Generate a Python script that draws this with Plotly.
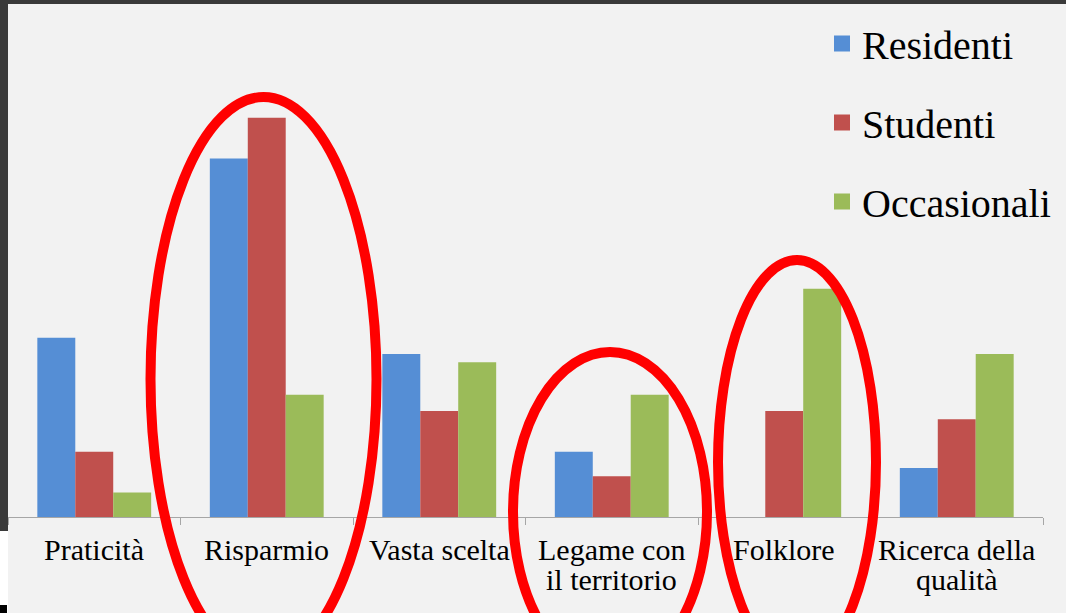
import plotly.graph_objects as go

categories = ["Praticità", "Risparmio", "Vasta scelta", "Legame con<br>il territorio", "Folklore", "Ricerca della<br>qualità"]
series_names = ["Residenti", "Studenti", "Occasionali"]
residenti = [22, 44, 20, 8, 0, 6]
studenti = [8, 49, 13, 5, 13, 12]
occasionali = [3, 15, 19, 15, 28, 20]
colors = ["#558ed5", "#c0504d", "#9bbb59"]

W, H = 1066, 613
ML, MR, MT, MB = 8, 23, 5, 96
PW, PH = W - ML - MR, H - MT - MB
SERIF = "'Liberation Serif', 'Times New Roman', Times, serif"

def px(x):
    return (x - ML) / PW

def py(y):
    return (H - MB - y) / PH

fig = go.Figure()
for name, vals, col in zip(series_names, [residenti, studenti, occasionali], colors):
    fig.add_trace(go.Bar(
        x=categories, y=vals, name=name, marker=dict(color=col, line=dict(width=0)),
        legendgroup=name, showlegend=False,
    ))
    fig.add_trace(go.Scatter(
        x=[None], y=[None], mode="markers", name=name, legendgroup=name,
        marker=dict(symbol="square", size=16, color=col),
    ))

# category labels, one annotation per text line (tight line spacing as in reference)
annotations = []
for cat in categories:
    for i, line in enumerate(cat.split("<br>")):
        annotations.append(dict(
            x=cat, xref="x", y=py(549 + 30 * i), yref="paper",
            text=line, showarrow=False, xanchor="center", yanchor="middle",
            font=dict(family=SERIF, size=30, color="#000000"),
        ))

shapes = []
# dark frame strips
shapes.append(dict(type="rect", xref="paper", yref="paper", x0=px(0), x1=px(W), y0=py(4), y1=py(-2),
                   fillcolor="#3a3a3a", line=dict(width=0), layer="above"))
shapes.append(dict(type="rect", xref="paper", yref="paper", x0=px(0), x1=px(8), y0=py(531), y1=py(0),
                   fillcolor="#3a3a3a", line=dict(width=0), layer="above"))
shapes.append(dict(type="rect", xref="paper", yref="paper", x0=px(0), x1=px(8), y0=py(H), y1=py(531),
                   fillcolor="#ffffff", line=dict(width=0), layer="above"))
shapes.append(dict(type="rect", xref="paper", yref="paper", x0=px(0), x1=px(7), y0=py(H), y1=py(605),
                   fillcolor="#000000", line=dict(width=0), layer="above"))
# red ellipses
for cx, cy, a, b in [(263.5, 379, 113, 282), (610, 512, 97, 160), (797, 462, 79, 202)]:
    shapes.append(dict(type="circle", xref="paper", yref="paper",
                       x0=px(cx - a), x1=px(cx + a), y0=py(cy + b), y1=py(cy - b),
                       line=dict(color="#ff0000", width=10), layer="above"))

fig.update_layout(
    width=W, height=H,
    margin=dict(l=ML, r=MR, t=MT, b=MB),
    paper_bgcolor="#f2f2f2", plot_bgcolor="#f2f2f2",
    barmode="group", bargap=0.34, bargroupgap=0,
    font=dict(family=SERIF, color="#000000"),
    xaxis=dict(
        type="category", range=[-0.5, 5.5], showgrid=False, zeroline=False,
        showline=True, linecolor="#a6a6a6", linewidth=1,
        ticks="outside", tickson="boundaries", ticklen=7, tickcolor="#a6a6a6",
        showticklabels=False,
    ),
    yaxis=dict(range=[0, PH / 8.15], visible=False, showgrid=False, zeroline=False),
    legend=dict(
        x=px(822), y=py(11), xanchor="left", yanchor="top",
        font=dict(family=SERIF, size=40, color="#000000"),
        bgcolor="rgba(0,0,0,0)", tracegroupgap=24, itemsizing="trace",
    ),
    annotations=annotations,
    shapes=shapes,
    showlegend=True,
)

fig.write_html(
    "out.html",
    config={"displayModeBar": False},
    post_script="document.body.style.margin='0';document.body.style.padding='0';document.body.style.overflow='hidden';",
)
